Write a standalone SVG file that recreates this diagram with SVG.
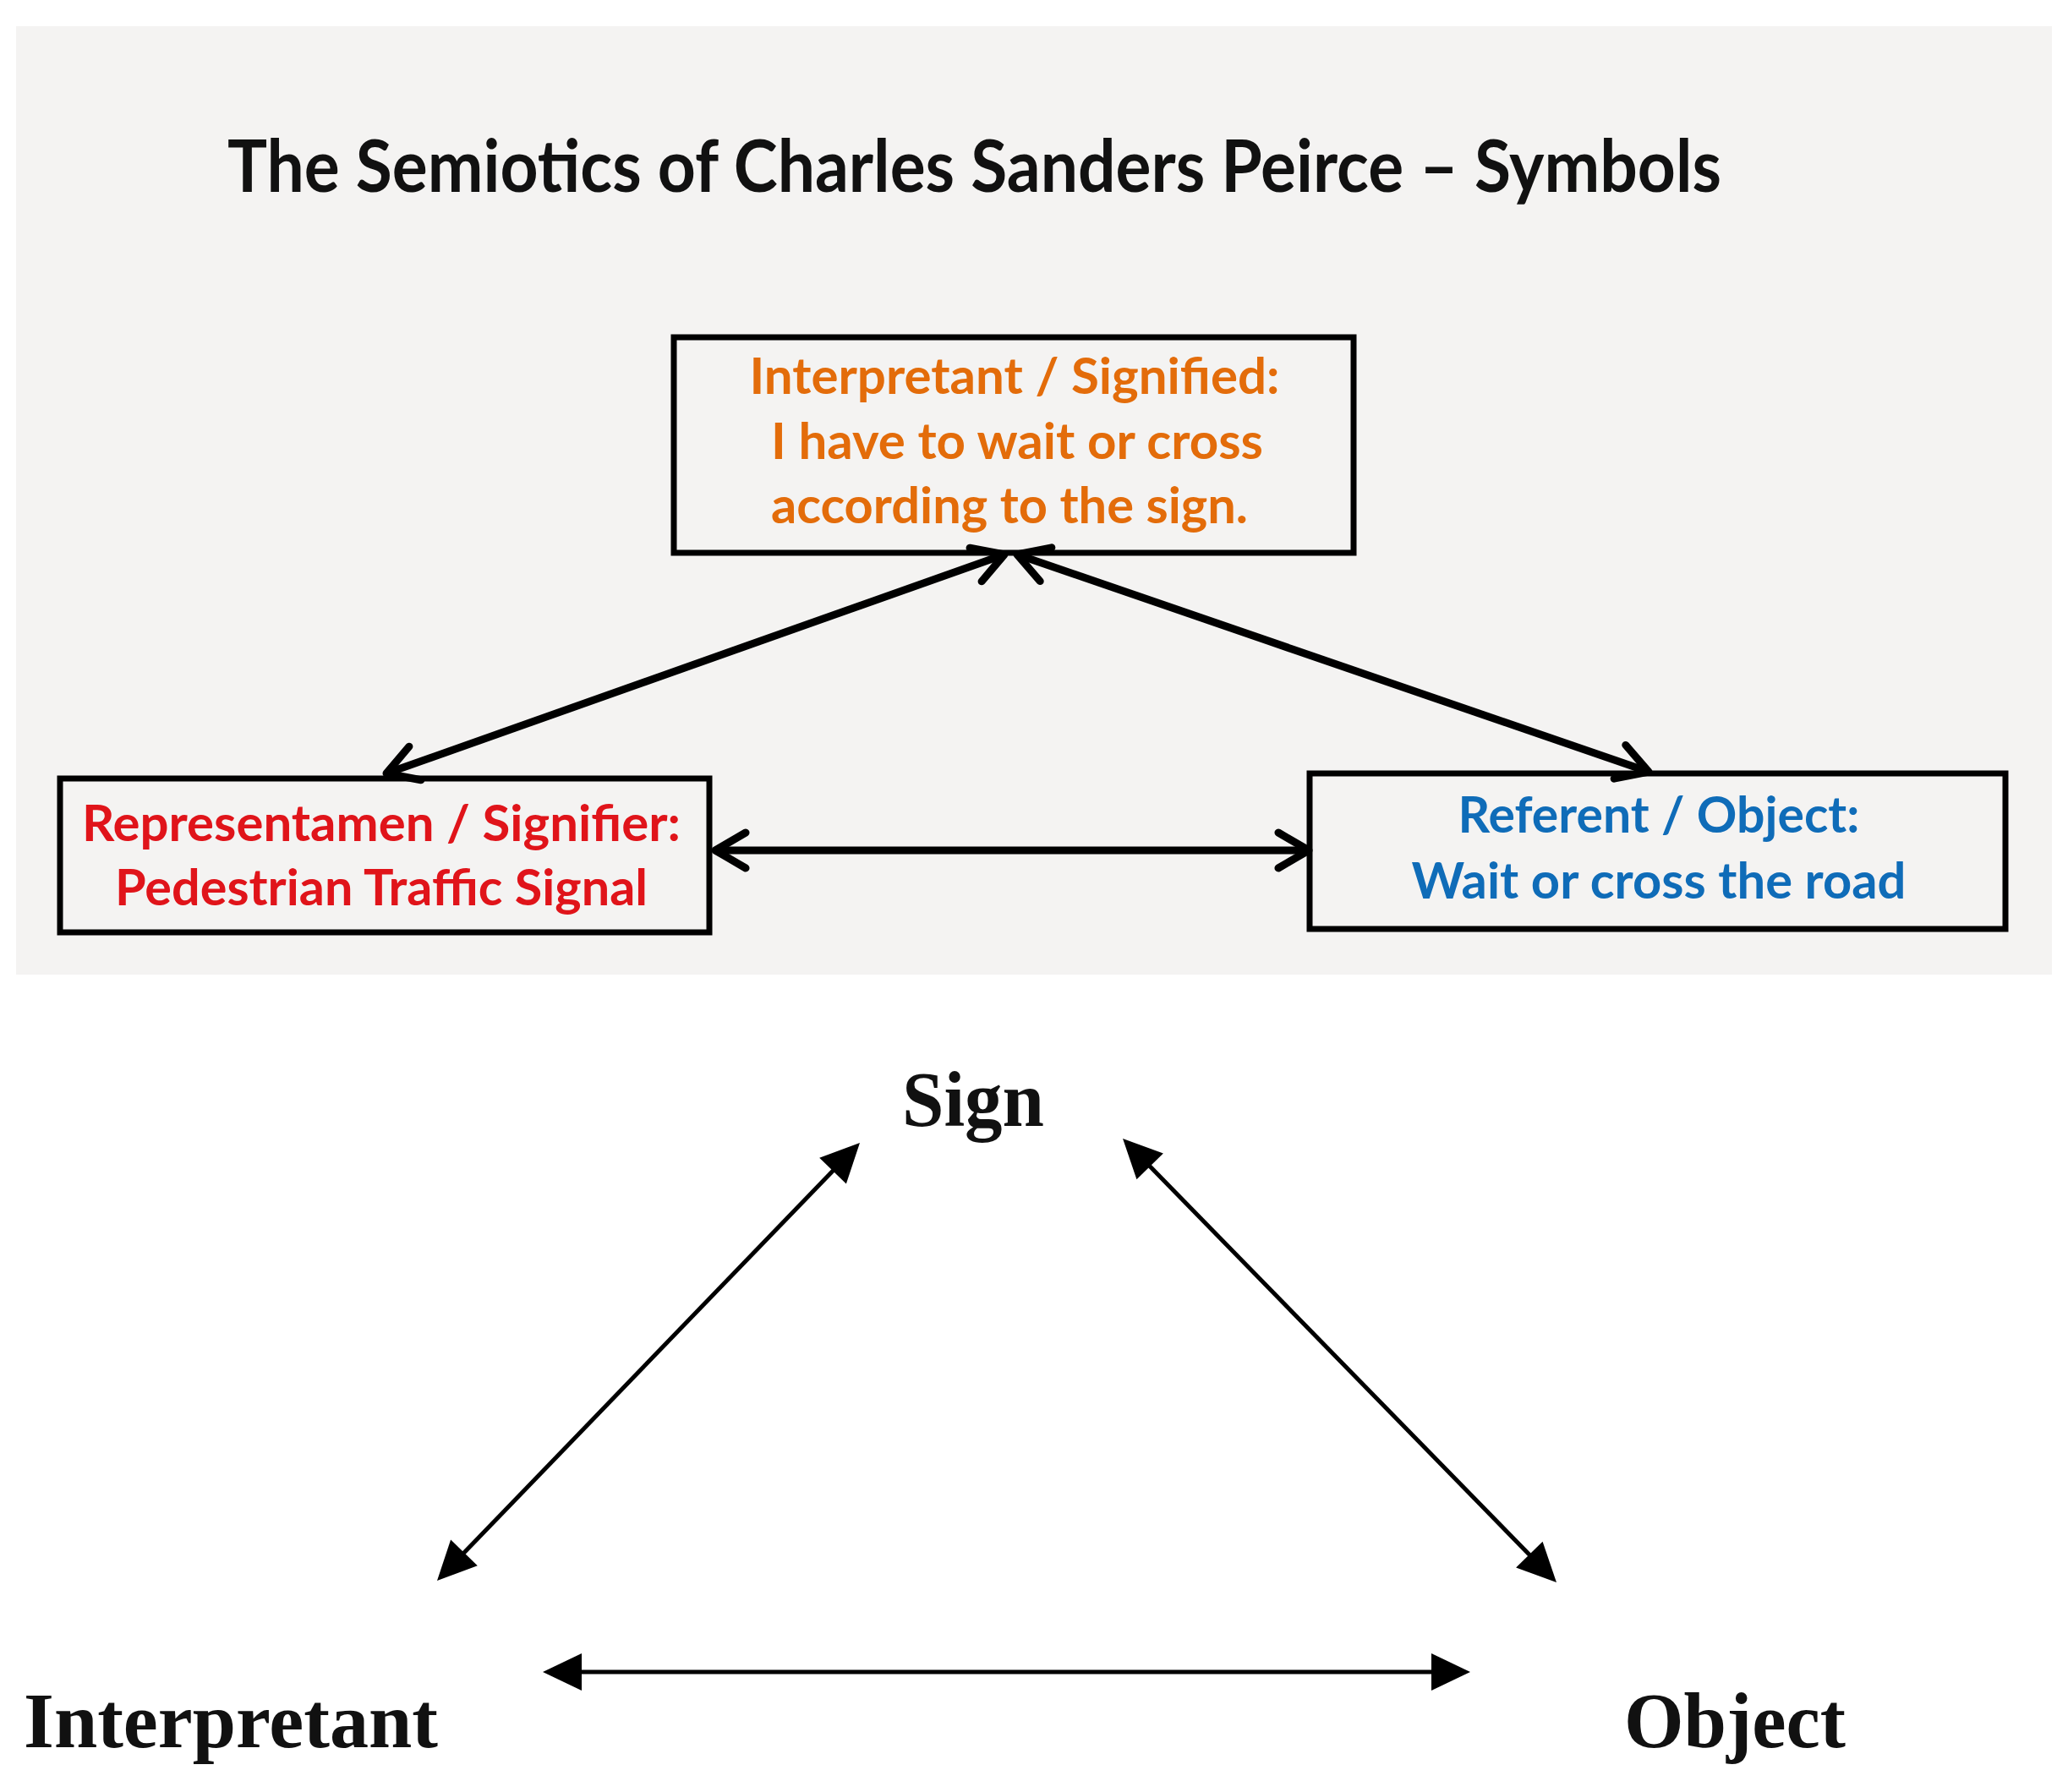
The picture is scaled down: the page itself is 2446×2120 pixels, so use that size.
<svg xmlns="http://www.w3.org/2000/svg" width="2446" height="2120" viewBox="0 0 2446 2120">
<style>
.box{fill:none;stroke:#000;stroke-width:7}
.ttl{font-family:Lato,"Open Sans","Liberation Sans",sans-serif;font-weight:700;fill:#111}
.lab{font-family:Lato,"Open Sans","Liberation Sans",sans-serif;font-weight:700;text-anchor:middle;font-size:60px}
.or{fill:#e36c0a}.rd{fill:#e0141a}.bl{fill:#0f6cb8}
.tm{font-family:"Liberation Serif","Times New Roman",serif;font-weight:700;fill:#111;font-size:94px}
.topc{stroke:#000;stroke-width:9;fill:none}
.botc{stroke:#000;stroke-width:5;fill:none}
</style>
<defs>
<marker id="chev" viewBox="0 0 46 46" markerUnits="userSpaceOnUse" markerWidth="46" markerHeight="46" refX="40" refY="23" orient="auto-start-reverse" overflow="visible">
<path d="M4,2 L40,23 L4,44" fill="none" stroke="#000" stroke-width="9" stroke-linecap="round" stroke-linejoin="round"/>
</marker>
<marker id="tri" viewBox="0 0 46 46" markerUnits="userSpaceOnUse" markerWidth="46" markerHeight="46" refX="26" refY="23" orient="auto-start-reverse" overflow="visible">
<path d="M0,1 L46,23 L0,45 z" fill="#000"/>
</marker>
</defs>
<rect x="0" y="0" width="2446" height="2120" fill="#fff"/>
<rect x="19" y="31" width="2408" height="1122" fill="#f4f3f2"/>
<text class="ttl" x="269" y="227" font-size="86" textLength="1767" lengthAdjust="spacingAndGlyphs">The Semiotics of Charles Sanders Peirce – Symbols</text>

<g id="connectors">
<line class="topc" x1="1188" y1="656" x2="457" y2="915" marker-start="url(#chev)" marker-end="url(#chev)"/>
<line class="topc" x1="1203" y1="656" x2="1950" y2="913" marker-start="url(#chev)" marker-end="url(#chev)"/>
<line class="topc" x1="846" y1="1006" x2="1548" y2="1006" marker-start="url(#chev)" marker-end="url(#chev)"/>
<line class="botc" x1="1003.1" y1="1366.4" x2="530.9" y2="1855.6" marker-start="url(#tri)" marker-end="url(#tri)"/>
<line class="botc" x1="1342" y1="1361.3" x2="1827" y2="1857.7" marker-start="url(#tri)" marker-end="url(#tri)"/>
<line class="botc" x1="662" y1="1978" x2="1719" y2="1978" marker-start="url(#tri)" marker-end="url(#tri)"/>
</g>

<g id="node-interpretant-signified">
<rect class="box" x="797" y="399" width="804" height="255"/>
<text class="lab or" x="1200" y="466" textLength="627" lengthAdjust="spacingAndGlyphs">Interpretant / Signified:</text>
<text class="lab or" x="1203" y="543" textLength="582" lengthAdjust="spacingAndGlyphs">I have to wait or cross</text>
<text class="lab or" x="1194" y="619" textLength="564" lengthAdjust="spacingAndGlyphs">according to the sign.</text>
</g>

<g id="node-representamen">
<rect class="box" x="71" y="921" width="768" height="182"/>
<text class="lab rd" x="451" y="995" textLength="708" lengthAdjust="spacingAndGlyphs">Representamen / Signifier:</text>
<text class="lab rd" x="451" y="1071" textLength="630" lengthAdjust="spacingAndGlyphs">Pedestrian Traffic Signal</text>
</g>

<g id="node-referent">
<rect class="box" x="1549" y="915" width="823" height="184"/>
<text class="lab bl" x="1962" y="985" textLength="475" lengthAdjust="spacingAndGlyphs">Referent / Object:</text>
<text class="lab bl" x="1962" y="1063" textLength="585" lengthAdjust="spacingAndGlyphs">Wait or cross the road</text>
</g>

<g id="node-sign">
<text class="tm" x="1067" y="1332" textLength="168" lengthAdjust="spacingAndGlyphs">Sign</text>
</g>
<g id="node-interpretant">
<text class="tm" x="28" y="2067" textLength="490" lengthAdjust="spacingAndGlyphs">Interpretant</text>
</g>
<g id="node-object">
<text class="tm" x="1921" y="2067" textLength="262" lengthAdjust="spacingAndGlyphs">Object</text>
</g>
</svg>
